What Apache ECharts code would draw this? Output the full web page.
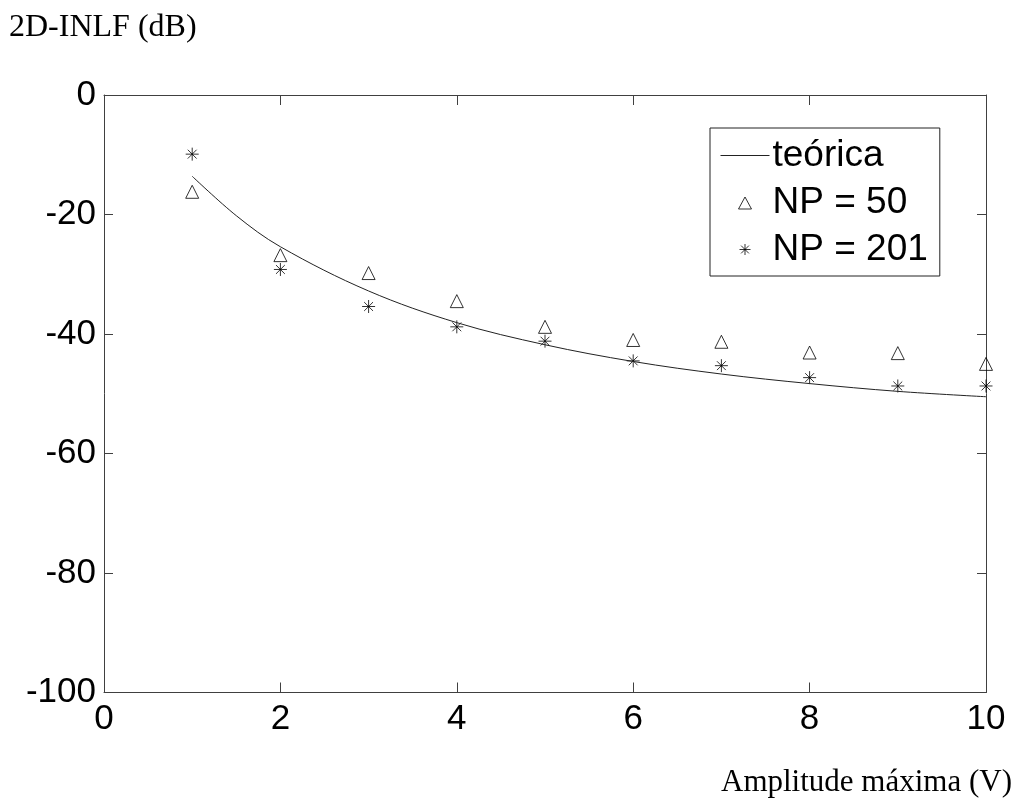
<!DOCTYPE html>
<html>
<head>
<meta charset="utf-8">
<script src="https://cdn.jsdelivr.net/npm/echarts@6/dist/echarts.min.js"></script>
<style>html,body{margin:0;padding:0;background:#fff}#c{width:1016px;height:805px}</style>
</head>
<body>
<div id="c"></div>
<script>
// Data
const theoryX = [1, 1.5, 2, 3, 4, 5, 6, 7, 8, 9, 10];
const theoryY = [-13.6, -20.2, -25.4, -32.8, -38.1, -41.8, -44.6, -46.7, -48.3, -49.6, -50.5];
const ampX = [1, 2, 3, 4, 5, 6, 7, 8, 9, 10];
const np50 = [-16.2, -26.8, -29.8, -34.5, -38.8, -41.0, -41.3, -43.1, -43.2, -45.0];
const np201 = [-9.9, -29.2, -35.4, -38.8, -41.2, -44.5, -45.3, -47.3, -48.7, -48.7];
const seriesNames = ['teórica', 'NP = 50', 'NP = 201'];
const yTitle = '2D-INLF (dB)';
const xTitle = 'Amplitude máxima (V)';

const starPath = 'path://M5 0 L5 10 M0 5 L10 5 M1.6 1.6 L8.4 8.4 M8.4 1.6 L1.6 8.4';
// legend icons padded to the 49x14 legend cell so they are not stretched
const legLine = 'path://M0 0 M49 14 M0 7 L49 7';
const legTri = 'path://M0 0 M49 14 M18 13.5 L31 13.5 L24.5 1.5 Z';
const legStar = 'path://M0 0 M49 14 M24.5 1.5 L24.5 12.5 M19 7 L30 7 M20.6 3.1 L28.4 10.9 M28.4 3.1 L20.6 10.9';
const pair = (xs, ys) => xs.map((x, i) => [x, ys[i]]);
const axisColor = '#404040';
const labelFont = {fontFamily: 'Liberation Sans, Arial', fontSize: 35, color: '#000'};
const legendIconStyle = {color: 'rgba(255,255,255,0)', borderColor: '#000', borderWidth: 1};

const chart = echarts.init(document.getElementById('c'), null, {renderer: 'canvas'});
chart.setOption({
  animation: false,
  backgroundColor: '#fff',
  title: [
    {text: yTitle, left: 9, top: 12, padding: 0,
     textStyle: {fontFamily: 'Liberation Serif, Times New Roman', fontSize: 32, fontWeight: 'normal', color: '#000'}},
    {text: xTitle, right: 4, top: 767, padding: 0,
     textStyle: {fontFamily: 'Liberation Serif, Times New Roman', fontSize: 31, fontWeight: 'normal', color: '#000'}}
  ],
  grid: {left: 104, right: 30, top: 95, bottom: 112.5, containLabel: false},
  xAxis: [
    {type: 'value', min: 0, max: 10, interval: 2, position: 'bottom',
     axisLine: {show: true, onZero: false, lineStyle: {color: axisColor, width: 1}},
     axisTick: {show: true, inside: true, length: 10, lineStyle: {color: axisColor}},
     axisLabel: Object.assign({margin: 9}, labelFont),
     splitLine: {show: false}},
    {type: 'value', min: 0, max: 10, interval: 2, position: 'top',
     axisLine: {show: true, onZero: false, lineStyle: {color: axisColor, width: 1}},
     axisTick: {show: true, inside: true, length: 10, lineStyle: {color: axisColor}},
     axisLabel: {show: false}, splitLine: {show: false}}
  ],
  yAxis: [
    {type: 'value', min: -100, max: 0, interval: 20, position: 'left',
     axisLine: {show: true, onZero: false, lineStyle: {color: axisColor, width: 1}},
     axisTick: {show: true, inside: true, length: 9, lineStyle: {color: axisColor}},
     axisLabel: Object.assign({margin: 8}, labelFont),
     splitLine: {show: false}},
    {type: 'value', min: -100, max: 0, interval: 20, position: 'right',
     axisLine: {show: true, onZero: false, lineStyle: {color: axisColor, width: 1}},
     axisTick: {show: true, inside: true, length: 9, lineStyle: {color: axisColor}},
     axisLabel: {show: false}, splitLine: {show: false}}
  ],
  legend: {
    orient: 'vertical', left: 710, top: 128,
    backgroundColor: '#fff', borderColor: '#222', borderWidth: 1,
    padding: [9, 12, 8, 10], itemGap: 10, itemWidth: 49, itemHeight: 14,
    textStyle: {fontFamily: 'Liberation Sans, Arial', fontSize: 37, color: '#000', lineHeight: 36, padding: [0, 0, 0, -2]},
    data: [
      {name: seriesNames[0], icon: legLine, itemStyle: {color: 'rgba(255,255,255,0)', borderColor: '#222', borderWidth: 1}},
      {name: seriesNames[1], icon: legTri, itemStyle: legendIconStyle},
      {name: seriesNames[2], icon: legStar, itemStyle: legendIconStyle}
    ]
  },
  series: [
    {name: seriesNames[0], type: 'line', data: pair(theoryX, theoryY), smooth: 0.35,
     symbol: 'none', showSymbol: false,
     lineStyle: {color: '#222', width: 1}, itemStyle: {color: '#222'}},
    {name: seriesNames[1], type: 'scatter', data: pair(ampX, np50),
     symbol: 'triangle', symbolSize: 13,
     itemStyle: {color: 'rgba(255,255,255,0)', borderColor: '#000', borderWidth: 1}},
    {name: seriesNames[2], type: 'scatter', data: pair(ampX, np201),
     symbol: starPath, symbolSize: 13,
     itemStyle: {color: 'rgba(255,255,255,0)', borderColor: '#000', borderWidth: 1}}
  ]
});
</script>
</body>
</html>
